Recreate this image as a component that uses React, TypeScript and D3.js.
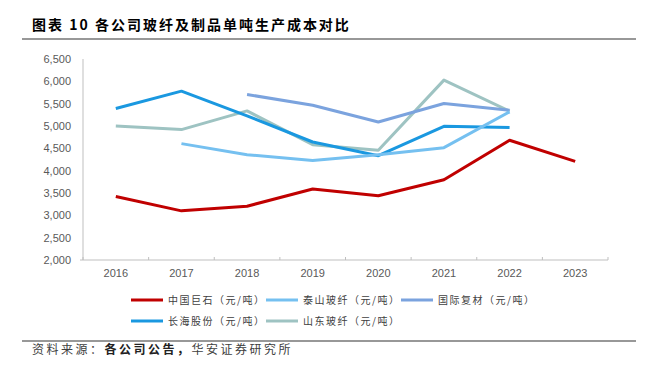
import React from "react";
import * as d3 from "d3";

const years = ["2016", "2017", "2018", "2019", "2020", "2021", "2022", "2023"];
const yTicks = [2000, 2500, 3000, 3500, 4000, 4500, 5000, 5500, 6000, 6500];

const jushi = [3420, 3100, 3205, 3590, 3437, 3796, 4680, 4208];
const taishan = [null, 4605, 4358, 4230, 4358, 4515, 5316, null];
const fucai = [null, null, 5705, 5466, 5091, 5503, 5353, null];
const changhai = [5391, 5780, 5226, 4642, 4335, 4994, 4964, null];
const shandong = [5001, 4919, 5338, 4582, 4455, 6027, 5331, null];

const seriesNames = ["中国巨石（元/吨）", "泰山玻纤（元/吨）", "国际复材（元/吨）", "长海股份（元/吨）", "山东玻纤（元/吨）"];
const seriesColors = ["#C00000", "#75C0F0", "#7BA3DE", "#1A98E0", "#9EC3C2"];
const seriesData = [jushi, taishan, fucai, changhai, shandong];

export default function App() {
  const W = 656, H = 376;
  const x = d3.scaleBand<string>().domain(years).range([83, 608]);
  const y = d3.scaleLinear().domain([2000, 6500]).range([260, 59]);
  const line = d3
    .line<number | null>()
    .defined((d) => d != null)
    .x((_, i) => (x(years[i]) as number) + x.bandwidth() / 2)
    .y((d) => y(d as number));
  const draw = [4, 3, 2, 1, 0];
  const legendPos = [
    [131, 300], [266, 300], [401, 300], [131, 321], [266, 321],
  ];
  const axisColor = "#BFBFBF";
  const tickFont = "'Liberation Sans', Arial, sans-serif";
  const cjk = "'Noto Sans CJK SC', sans-serif";
  return (
    <svg width={W} height={H} style={{ position: "absolute", left: 0, top: 0, background: "#fff" }}>
      <text x={32} y={30} fontFamily={cjk} fontWeight="bold" fontSize={14} letterSpacing={2} fill="#000">图表 10 各公司玻纤及制品单吨生产成本对比</text>
      <line x1={22} x2={636} y1={39} y2={39} stroke="#333" strokeWidth={1.2} />
      {/* axes */}
      <line x1={83} x2={83} y1={y(6500)} y2={y(2000)} stroke={axisColor} strokeWidth={1} />
      <line x1={80} x2={608} y1={y(2000)} y2={y(2000)} stroke={axisColor} strokeWidth={1} />
      {years.map((yr) => (
        <line key={"t" + yr} x1={(x(yr) as number)} x2={(x(yr) as number)} y1={y(2000) - 3} y2={y(2000)} stroke={axisColor} />
      ))}
      <line x1={608} x2={608} y1={y(2000) - 3} y2={y(2000)} stroke={axisColor} />
      {yTicks.map((t) => (
        <text key={t} x={71} y={y(t) + 4} textAnchor="end" fontFamily={tickFont} fontSize={11} fill="#595959">
          {d3.format(",")(t)}
        </text>
      ))}
      {years.map((yr) => (
        <text key={yr} x={(x(yr) as number) + x.bandwidth() / 2} y={277} textAnchor="middle" fontFamily={tickFont} fontSize={11} fill="#595959">
          {yr}
        </text>
      ))}
      {draw.map((i) => (
        <path key={i} d={line(seriesData[i] as any) || ""} fill="none" stroke={seriesColors[i]} strokeWidth={3} strokeLinejoin="round" />
      ))}
      {seriesNames.map((n, i) => (
        <g key={n}>
          <line x1={legendPos[i][0]} x2={legendPos[i][0] + 32} y1={legendPos[i][1]} y2={legendPos[i][1]} stroke={seriesColors[i]} strokeWidth={3} />
          <text x={legendPos[i][0] + 37} y={legendPos[i][1] + 3.5} fontFamily={cjk} fontSize={10} letterSpacing={1.5} fill="#404040">{n}</text>
        </g>
      ))}
      <line x1={22} x2={636} y1={341} y2={341} stroke="#333" strokeWidth={1.2} />
      <text x={32} y={354} fontFamily={cjk} fontSize={12} letterSpacing={2.5} fill="#404040">
        资料来源：<tspan fontWeight="bold" fill="#222">各公司公告，</tspan>华安证券研究所
      </text>
    </svg>
  );
}
